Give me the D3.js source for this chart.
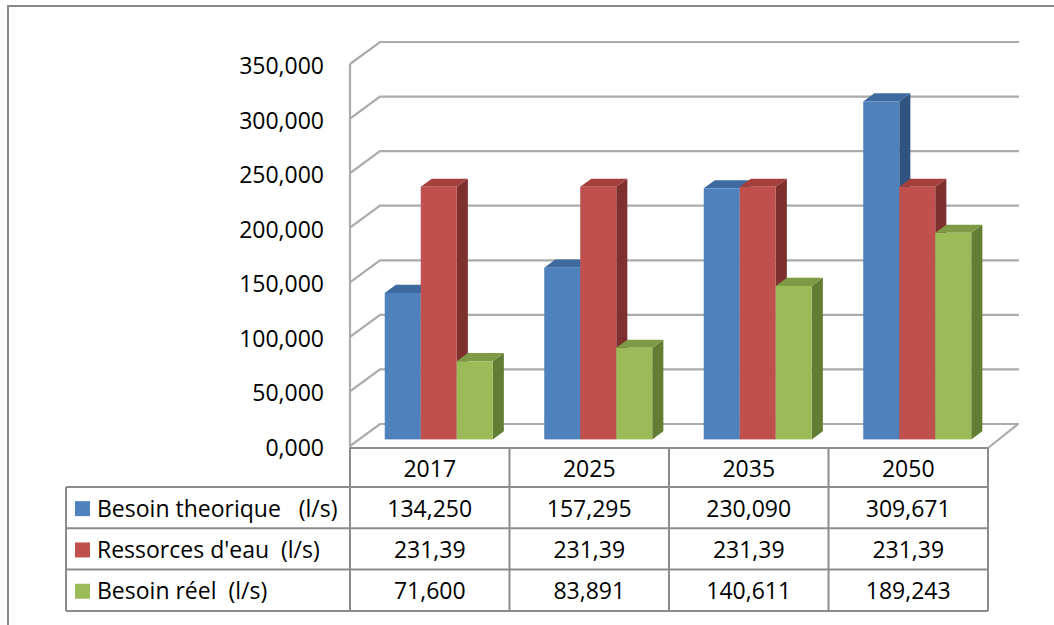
<!DOCTYPE html>
<html>
<head>
<meta charset="utf-8">
<script src="https://cdn.jsdelivr.net/npm/d3@7"></script>
<style>
  body { margin: 0; background: #fff; }
  text { font-family: "Open Sans", sans-serif; fill: #000; white-space: pre; }
</style>
</head>
<body>
<div id="chart"></div>
<script>
// data (l/s)
let years = ["2017", "2025", "2035", "2050"];
let seriesNames = ["Besoin theorique   (l/s)", "Ressorces d'eau  (l/s)", "Besoin réel  (l/s)"];
let besoinTheorique = [134.250, 157.295, 230.090, 309.671];
let ressources = [231.39, 231.39, 231.39, 231.39];
let besoinReel = [71.600, 83.891, 140.611, 189.243];
let decimals = [3, 2, 3];
let yTicks = [0, 50, 100, 150, 200, 250, 300, 350];

let series = [besoinTheorique, ressources, besoinReel];
let fronts = ["#4F81BD", "#C0504D", "#9BBB59"],
    tops = ["#3E6A9F", "#A43F3C", "#7E9A45"],
    sides = ["#2F5481", "#7E302E", "#647D35"];

let width = 1054, height = 625;
let depthX = 30, depthY = -22;   // 3d offset of the back wall
let t0 = 0.3, t1 = 0.67;         // depth of bar front / back faces

let fr = d3.formatLocale({ decimal: ",", thousands: " ", grouping: [3], currency: ["", ""] });

let svg = d3.select("#chart").append("svg")
    .attr("width", width)
    .attr("height", height);

// outer frame (left + top only visible)
svg.append("path")
    .attr("d", "M8,625 L8,6 L1054,6")
    .attr("fill", "none")
    .attr("stroke", "#8a8a8a")
    .attr("stroke-width", 2);

let x0 = d3.scaleBand().domain(years).range([350, 988]);
let x1 = d3.scaleBand().domain(d3.range(3)).range([0, x0.bandwidth()]).paddingOuter(0.715);
let y = d3.scaleLinear().domain([0, 350]).range([446, 64]);

// back wall gridlines + side wall
let grid = svg.append("g").attr("fill", "none").attr("stroke", "#ababab").attr("stroke-width", 2.2);
grid.selectAll(".hline")
    .data(yTicks)
    .enter().append("path")
    .attr("d", function (d) {
        return "M350," + y(d) + " L" + (350 + depthX) + "," + (y(d) + depthY) + " L" + (x0.range()[1] + depthX + 1) + "," + (y(d) + depthY);
    });
grid.append("line")
    .attr("x1", 350).attr("x2", 350)
    .attr("y1", y(350)).attr("y2", y(0) + 2);
// floor right edge
grid.append("line")
    .attr("x1", x0.range()[1]).attr("y1", y(0) + 2)
    .attr("x2", x0.range()[1] + depthX).attr("y2", y(0) + depthY);

// y labels
svg.selectAll(".ylab")
    .data(yTicks)
    .enter().append("text")
    .attr("x", 324)
    .attr("y", function (d) { return y(d) + 2; })
    .attr("dy", "0.35em")
    .style("text-anchor", "end")
    .style("font-size", "23px")
    .text(function (d) { return fr.format(".3f")(d); });

// bars
let bars = [];
years.forEach(function (yr, i) {
    series.forEach(function (s, j) {
        bars.push({ year: yr, s: j, value: s[i] });
    });
});

let g = svg.append("g");
bars.forEach(function (b) {
    let xl = x0(b.year) + x1(b.s) + depthX * t0,
        xr = xl + x1.bandwidth(),
        yb = y(0) + depthY * t0,
        yt = y(b.value) + depthY * t0,
        ddx = depthX * (t1 - t0),
        ddy = depthY * (t1 - t0);
    // side
    g.append("path")
        .attr("d", "M" + xr + "," + yt + " L" + (xr + ddx) + "," + (yt + ddy) + " L" + (xr + ddx) + "," + (yb + ddy) + " L" + xr + "," + yb + "Z")
        .attr("fill", sides[b.s]);
    // top
    g.append("path")
        .attr("d", "M" + xl + "," + yt + " L" + (xl + ddx) + "," + (yt + ddy) + " L" + (xr + ddx) + "," + (yt + ddy) + " L" + xr + "," + yt + "Z")
        .attr("fill", tops[b.s]);
    // front
    g.append("rect")
        .attr("x", xl).attr("y", yt)
        .attr("width", x1.bandwidth()).attr("height", yb - yt)
        .attr("fill", fronts[b.s]);
});

// data table
let rowTop = 448, headH = 39, rowH = 41.3, tableLeft = 66;
let rowY = d3.scaleBand().domain(d3.range(3)).range([rowTop + headH, rowTop + headH + 3 * rowH]);
let tbl = svg.append("g");
let tl = tbl.append("g").attr("stroke", "#8c8c8c").attr("stroke-width", 2).attr("fill", "none");

tl.append("line")
    .attr("x1", 350).attr("x2", x0.range()[1])
    .attr("y1", rowTop).attr("y2", rowTop);
tl.selectAll(".hr")
    .data(d3.range(4))
    .enter().append("line")
    .attr("x1", tableLeft).attr("x2", x0.range()[1])
    .attr("y1", function (d) { return rowTop + headH + d * rowH; })
    .attr("y2", function (d) { return rowTop + headH + d * rowH; });
tl.selectAll(".vr")
    .data(years.concat(["end"]))
    .enter().append("line")
    .attr("x1", function (d) { return d === "end" ? x0.range()[1] : x0(d); })
    .attr("x2", function (d) { return d === "end" ? x0.range()[1] : x0(d); })
    .attr("y1", rowTop)
    .attr("y2", rowTop + headH + 3 * rowH);
tl.append("line")
    .attr("x1", tableLeft).attr("x2", tableLeft)
    .attr("y1", rowTop + headH).attr("y2", rowTop + headH + 3 * rowH);

tbl.selectAll(".year")
    .data(years)
    .enter().append("text")
    .attr("x", function (d) { return x0(d) + x0.bandwidth() / 2; })
    .attr("y", rowTop + headH / 2 + 1)
    .attr("dy", "0.35em")
    .style("text-anchor", "middle")
    .style("font-size", "23px")
    .text(function (d) { return d; });

series.forEach(function (s, j) {
    let cy = rowY(j) + rowY.bandwidth() / 2 + 1;
    tbl.append("rect")
        .attr("x", 75).attr("y", cy - 7.5)
        .attr("width", 15).attr("height", 15)
        .attr("fill", fronts[j]);
    tbl.append("text")
        .attr("x", 97).attr("y", cy)
        .attr("dy", "0.35em")
        .style("font-size", "23px")
        .text(seriesNames[j]);
    tbl.selectAll(".v" + j)
        .data(s)
        .enter().append("text")
        .attr("x", function (d, i) { return x0(years[i]) + x0.bandwidth() / 2; })
        .attr("y", cy)
        .attr("dy", "0.35em")
        .style("text-anchor", "middle")
        .style("font-size", "23px")
        .text(function (d) { return fr.format("." + decimals[j] + "f")(d); });
});
</script>
</body>
</html>
